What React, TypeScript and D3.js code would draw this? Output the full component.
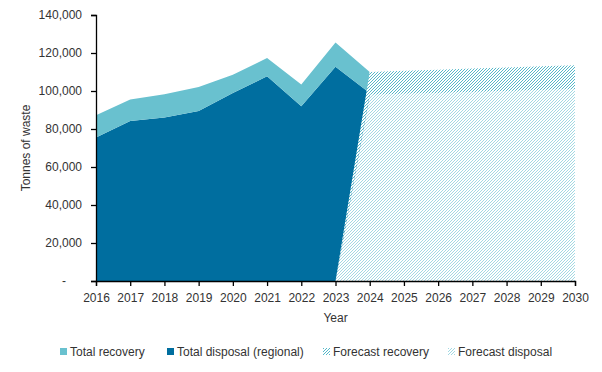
import React, { useEffect, useRef } from 'react';
import * as d3 from 'd3';

const tickYears = [2016, 2017, 2018, 2019, 2020, 2021, 2022, 2023, 2024, 2025, 2026, 2027, 2028, 2029, 2030];
const yTicks = [0, 20000, 40000, 60000, 80000, 100000, 120000, 140000];

// actuals
const histYears = [2016, 2017, 2018, 2019, 2020, 2021, 2022, 2023, 2024];
const histDisposal = [75500, 84200, 86000, 89500, 99000, 107700, 92000, 112700, 99000];
const histRecovery = [11700, 11300, 12300, 12600, 9500, 9700, 11400, 12800, 11000];

// forecast (starts from zero at 2023)
const fcYears = [2023, 2024, 2025, 2026, 2027, 2028, 2029, 2030];
const fcDisposal = [0, 98000, 98500, 99000, 99500, 100000, 100500, 101000];
const fcRecovery = [0, 12000, 12100, 12200, 12300, 12400, 12500, 12600];

const legendItems = [
  { label: 'Total recovery', fill: '#69c1cf' },
  { label: 'Total disposal (regional)', fill: '#006e9f' },
  { label: 'Forecast recovery', fill: 'url(#hatchRec)' },
  { label: 'Forecast disposal', fill: 'url(#hatchDis)' },
];

const FONT = '"Liberation Sans", Arial, sans-serif';
const FS = 12;
const TEXT = '#333';

export default function App() {
  const ref = useRef<SVGSVGElement | null>(null);

  useEffect(() => {
    const svg = d3.select(ref.current);
    svg.selectAll('*').remove();

    const width = 602;
    const height = 372;
    const left = 96, right = 575, top = 15, bottom = 281;

    const x = d3.scaleLinear().domain([2016, 2030]).range([left, right]);
    const y = d3.scaleLinear().domain([0, 140000]).range([bottom, top]);

    // hatch patterns
    const defs = svg.append('defs');
    const makeHatch = (id: string, color: string, sw: number, size: number) => {
      const p = defs.append('pattern')
        .attr('id', id)
        .attr('patternUnits', 'userSpaceOnUse')
        .attr('width', size)
        .attr('height', size);
      p.append('rect').attr('width', size).attr('height', size).attr('fill', '#fff');
      p.append('path')
        .attr('d', `M${-size / 4},${size / 4} l${size / 2},${-size / 2} M0,${size} l${size},${-size} M${size * 0.75},${size * 1.25} l${size / 2},${-size / 2}`)
        .attr('stroke', color)
        .attr('stroke-width', sw)
        .attr('shape-rendering', 'crispEdges');
    };
    makeHatch('hatchRec', '#55b8c9', 1.4, 3);
    makeHatch('hatchDis', '#8ccfdc', 0.8, 3);

    // chart border
    svg.append('rect')
      .attr('x', 0.5).attr('y', 0.5)
      .attr('width', width - 2).attr('height', height - 3)
      .attr('fill', '#fff')
      .attr('stroke', '#d9d9d9');

    const histRows = histYears.map((yr, i) => ({ year: yr, disposal: histDisposal[i], recovery: histRecovery[i] }));
    const fcRows = fcYears.map((yr, i) => ({ year: yr, disposal: fcDisposal[i], recovery: fcRecovery[i] }));

    const stack = d3.stack<any>().keys(['disposal', 'recovery']);
    const area = d3.area<any>()
      .x(d => x(d.data.year))
      .y0(d => y(d[0]))
      .y1(d => y(d[1]));

    const histColors: Record<string, string> = { disposal: '#006e9f', recovery: '#69c1cf' };
    svg.append('g').selectAll('path')
      .data(stack(histRows))
      .join('path')
      .attr('d', area as any)
      .attr('fill', d => histColors[d.key]);

    const fcFills: Record<string, string> = { disposal: 'url(#hatchDis)', recovery: 'url(#hatchRec)' };
    svg.append('g').selectAll('path')
      .data(stack(fcRows))
      .join('path')
      .attr('d', area as any)
      .attr('fill', d => fcFills[d.key]);

    // y axis
    const yAxis = svg.append('g')
      .attr('transform', `translate(${left},0)`)
      .call(d3.axisLeft(y).tickValues(yTicks).tickSize(5).tickPadding(9)
        .tickFormat(d => (+d === 0 ? '' : d3.format(',')(+d))))
      .attr('font-family', FONT)
      .attr('font-size', FS);
    yAxis.select('.domain').attr('stroke', '#000').attr('stroke-width', 1.3);
    yAxis.selectAll('.tick line').attr('stroke', '#000').attr('stroke-width', 1.3);
    yAxis.selectAll('.tick text').attr('fill', TEXT);
    svg.append('text')
      .attr('x', 66).attr('y', y(0) + 4)
      .attr('text-anchor', 'end')
      .attr('font-family', FONT).attr('font-size', FS)
      .attr('fill', TEXT)
      .text('-');

    // x axis
    const xAxis = svg.append('g')
      .attr('transform', `translate(0,${bottom})`)
      .call(d3.axisBottom(x).tickValues(tickYears).tickSize(5).tickPadding(7).tickFormat(d3.format('d')))
      .attr('font-family', FONT)
      .attr('font-size', FS);
    xAxis.select('.domain').attr('stroke', '#000').attr('stroke-width', 1.3);
    xAxis.selectAll('.tick line').attr('stroke', '#000').attr('stroke-width', 1.3);
    xAxis.selectAll('.tick text').attr('fill', TEXT);

    // axis titles
    svg.append('text')
      .attr('x', (left + right) / 2).attr('y', 322)
      .attr('text-anchor', 'middle')
      .attr('font-family', FONT).attr('font-size', FS)
      .attr('fill', TEXT)
      .text('Year');
    svg.append('text')
      .attr('transform', `translate(30,${(top + bottom) / 2}) rotate(-90)`)
      .attr('text-anchor', 'middle')
      .attr('font-family', FONT).attr('font-size', FS)
      .attr('fill', TEXT)
      .text('Tonnes of waste');

    // legend
    const legendX = [60, 167, 323, 448];
    const lg = svg.append('g').selectAll('g')
      .data(legendItems)
      .join('g')
      .attr('transform', (d, i) => `translate(${legendX[i]},352)`);
    lg.append('rect')
      .attr('x', 0).attr('y', -4)
      .attr('width', 7).attr('height', 7)
      .attr('fill', d => d.fill);
    lg.append('text')
      .attr('x', 10).attr('y', 4)
      .attr('font-family', FONT).attr('font-size', FS)
      .attr('fill', TEXT)
      .text(d => d.label);
  }, []);

  return (
    <div>
      <svg ref={ref} width={602} height={372} style={{ display: 'block', margin: -8 }}></svg>
    </div>
  );
}
